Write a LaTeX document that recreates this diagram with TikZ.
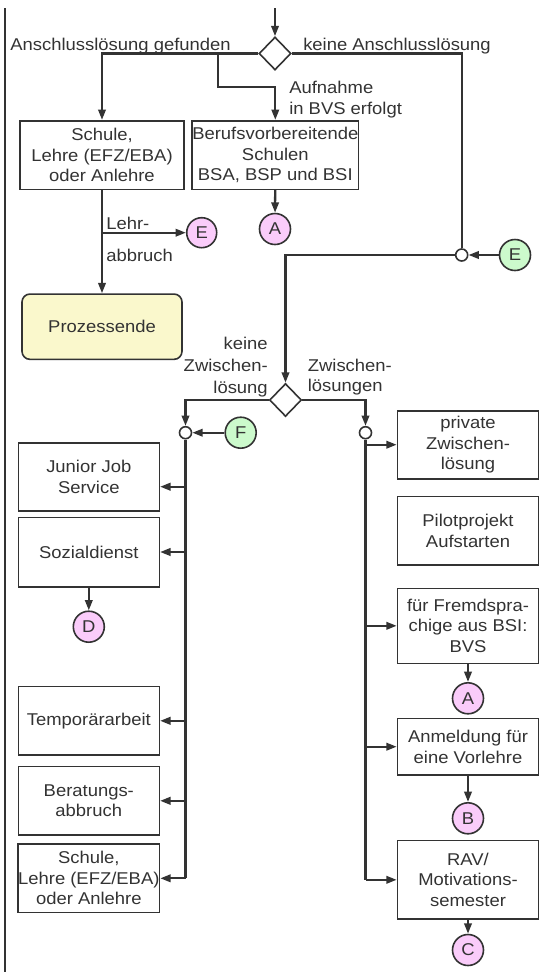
\documentclass[tikz,border=0pt]{standalone}
\usepackage{fontspec}
\setmainfont{Liberation Sans}[FakeStretch=1.08]
\usetikzlibrary{arrows.meta,shapes.geometric}
\definecolor{lc}{HTML}{333333}
\definecolor{pinkc}{HTML}{FACCFA}
\definecolor{greenc}{HTML}{CCFACC}
\definecolor{yellc}{HTML}{FAF8CC}
\begin{document}
\begin{tikzpicture}[x=0.75pt,y=-0.75pt,
  font=\fontsize{12.8pt}{15.4pt}\selectfont, text=lc,
  conn/.style={draw=lc, line width=1.7pt},
  arr/.style={conn, -{Triangle[length=7.8pt,width=5.6pt]}},
  box/.style={draw=lc, line width=1.2pt, fill=white, align=center, inner sep=0pt, minimum width=141*0.75pt},
  pcirc/.style={circle, draw=lc, line width=1.2pt, fill=pinkc, minimum size=31*0.75pt, inner sep=0pt},
  gcirc/.style={circle, draw=lc, line width=1.2pt, fill=greenc, minimum size=31*0.75pt, inner sep=0pt},
  junc/.style={circle, draw=lc, line width=1.2pt, fill=white, minimum size=12*0.75pt, inner sep=0pt},
  dia/.style={diamond, draw=lc, line width=1.2pt, fill=white, minimum width=32*0.75pt, minimum height=33*0.75pt, inner sep=0pt},
  lab/.style={inner sep=0pt}]
\useasboundingbox (0,0) rectangle (541,972);

% left border line
\coordinate (lt) at (5,8);
\coordinate (lb) at (5,972);
\draw[draw=lc, line width=1.5pt] (lt) -- (lb);

% top part
\node[dia] (d1) at (275,53.5) {};
\coordinate (top) at (275,8);
\draw[arr] (top) -- (d1.north);

\node[box, minimum width=164*0.75pt, minimum height=68.6*0.75pt] (schule1) at (102,155) {Schule,\\Lehre (EFZ/EBA)\\oder Anlehre};
\node[box, minimum width=166.6*0.75pt, minimum height=68.6*0.75pt] (berufs) at (275.3,155) {Berufsvorbereitende\\Schulen\\BSA, BSP und BSI};
\node[pcirc] (a1) at (275,229) {A};
\node[pcirc, minimum size=30*0.75pt] (e1) at (201.7,232.7) {E};
\node[box, fill=yellc, rounded corners=6pt, minimum width=160*0.75pt, minimum height=65.3*0.75pt] (proz) at (102,326.7) {Prozessende};
\node[junc] (j1) at (461.7,255) {};
\node[gcirc] (e2) at (515,255) {E};

\coordinate (b2) at (218,87.3);
\draw[arr] (d1.west) -| (schule1.north);
\draw[arr] (d1.west -| b2) -- (b2) -| (berufs.north);
\draw[conn] (d1.east) -| (j1.north);
\draw[arr] (berufs) -- (a1);
\draw[arr] (schule1) -- (proz);
\draw[arr] (schule1.south |- e1) -- (e1);
\draw[arr] (e2) -- (j1);

% labels top
\node[lab, anchor=base east] (l1) at (231,50) {Anschlusslösung gefunden};
\node[lab, anchor=base west] (l2) at (303,50) {keine Anschlusslösung};
\node[lab, anchor=west, align=left] (l3) at (289,99.7) {Aufnahme\\in BVS erfolgt};
\node[lab, anchor=west, align=left] (l4) at (106,239.2) {Lehr-\\[8.4pt]abbruch};

% second decision
\node[dia] (d2) at (285.5,400) {};
\draw[arr] (j1.west) -| (d2.north);
\node[lab, anchor=east, align=right] (l5) at (268,367) {keine\\[1.1pt]Zwischen-\\[1.1pt]lösung};
\node[lab, anchor=west, align=left] (l6) at (307.6,377) {Zwischen-\\lösungen};

\node[junc] (jl) at (185.5,432.7) {};
\node[junc] (jr) at (365.5,432.7) {};
\node[gcirc] (f) at (240.7,432.7) {F};
\draw[arr] (d2.west) -| (jl.north);
\draw[arr] (d2.east) -| (jr.north);
\draw[arr] (f) -- (jl);

% left column
\node[box, minimum height=68*0.75pt] (junior) at (88.8,476.7) {Junior Job\\Service};
\node[box, minimum height=69.4*0.75pt] (sozial) at (88.8,552) {Sozialdienst};
\node[pcirc] (d) at (88.8,626.7) {D};
\node[box, minimum height=68.3*0.75pt] (temp) at (88.8,720.8) {Temporärarbeit};
\node[box, minimum height=68.3*0.75pt] (berat) at (88.8,800.8) {Beratungs-\\abbruch};
\node[box, minimum height=68.7*0.75pt] (schule2) at (88.8,878.3) {Schule,\\Lehre (EFZ/EBA)\\oder Anlehre};

\draw[conn] (jl.south) -- (jl |- schule2.east);
\coordinate (jarr) at ([yshift=-7.5pt]junior.east);
\draw[arr] (jl |- jarr) -- (jarr);
\draw[arr] (jl |- sozial.east) -- (sozial.east);
\draw[arr] (jl |- temp.east) -- (temp.east);
\draw[arr] (jl |- berat.east) -- (berat.east);
\draw[arr] (jl |- schule2.east) -- (schule2.east);
\draw[arr] (sozial) -- (d);

% right column
\node[box, minimum height=68*0.75pt] (private) at (468,444.7) {private\\Zwischen-\\lösung};
\node[box, minimum height=68.3*0.75pt] (pilot) at (468,530.8) {Pilotprojekt\\Aufstarten};
\node[box, minimum height=75*0.75pt] (fremd) at (468,625.8) {für Fremdspra-\\chige aus BSI:\\BVS};
\node[pcirc] (a2) at (468,698.3) {A};
\node[box, minimum height=56.7*0.75pt] (anmeld) at (468,746.7) {Anmeldung für\\eine Vorlehre};
\node[pcirc] (b) at (468,818.3) {B};
\node[box, minimum height=78.3*0.75pt] (rav) at (468,879.8) {RAV/\\Motivations-\\semester};
\node[pcirc] (c) at (468,950) {C};

\draw[conn] (jr.south) -- (jr |- rav.west);
\draw[arr] (jr |- private.west) -- (private.west);
\draw[arr] (jr |- fremd.west) -- (fremd.west);
\draw[arr] (jr |- anmeld.west) -- (anmeld.west);
\draw[arr] (jr |- rav.west) -- (rav.west);
\draw[arr] (fremd) -- (a2);
\draw[arr] (anmeld) -- (b);
\draw[arr] (rav) -- (c);
\end{tikzpicture}
\end{document}
